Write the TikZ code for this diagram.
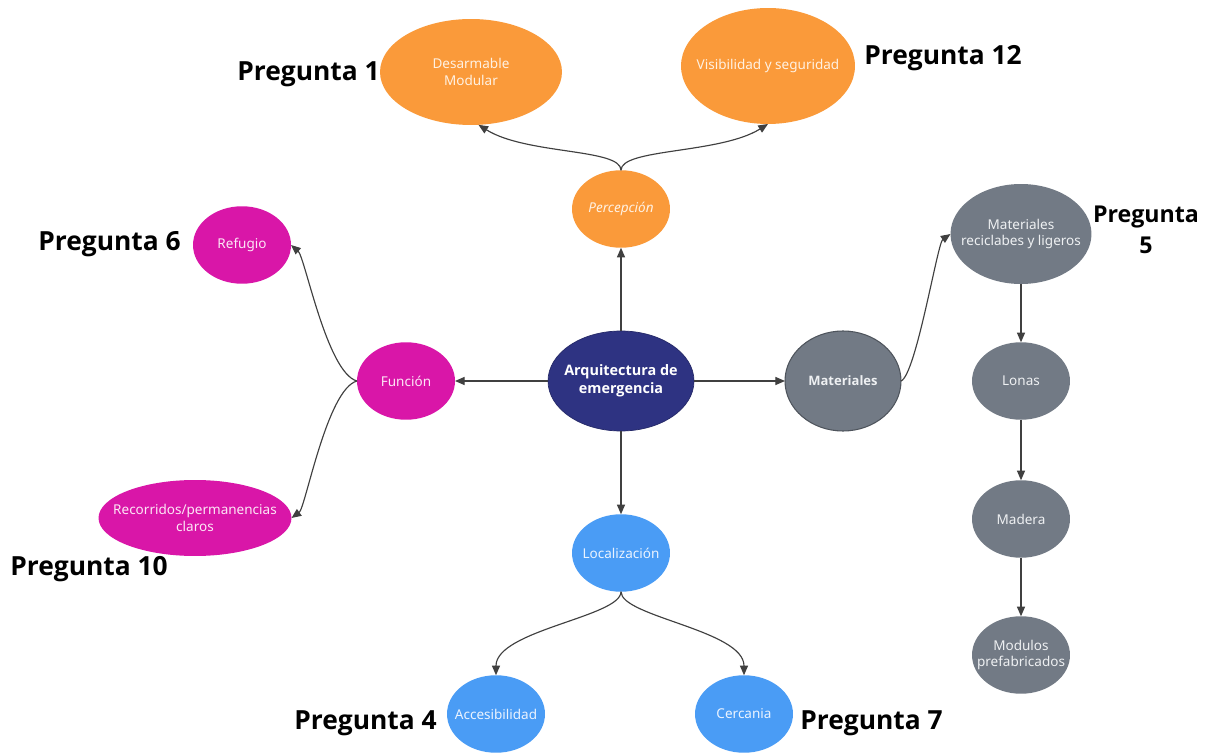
\documentclass[tikz,border=0pt]{standalone}
\usepackage{fontspec}
\setmainfont{Noto Sans}
\newfontfamily\tagfont{Open Sans}
\newfontfamily\strongfont{Open Sans}
\usetikzlibrary{shapes.geometric,arrows.meta}

\definecolor{cOrange}{HTML}{FA9A3A}
\definecolor{cOrangeTxt}{HTML}{FFF1E2}
\definecolor{cMagenta}{HTML}{D916A8}
\definecolor{cMagentaTxt}{HTML}{FCE6F5}
\definecolor{cNavy}{HTML}{2E3382}
\definecolor{cGrey}{HTML}{727A85}
\definecolor{cGreyLine}{HTML}{4E545C}
\definecolor{cGreyTxt}{HTML}{EEF0F2}
\definecolor{cBlue}{HTML}{4A9CF5}
\definecolor{cBlueTxt}{HTML}{EAF3FF}
\definecolor{cEdge}{HTML}{404040}

\begin{document}
\begin{tikzpicture}[x=0.02cm, y=-0.02cm,
  bub/.style={ellipse, inner sep=0pt, outer sep=0pt},
  small/.style={bub, minimum width=1.96cm, minimum height=1.55cm},
  txt/.style={font=\fontsize{7.7}{9.6}\selectfont, align=center, inner sep=0pt},
  boldtxt/.style={font=\strongfont\bfseries\fontsize{8.2}{10}\selectfont, align=center, inner sep=0pt, text=white},
  link/.style={draw=cEdge, line width=0.65pt, -{Triangle[length=5.5pt,width=4.6pt]}},
  tag/.style={font=\tagfont\bfseries\fontsize{15}{17.6}\selectfont, inner sep=0pt, text=black, align=center}]

\path[use as bounding box, fill=white] (0,0) rectangle (1208,753);

% central concept
\node[bub, fill=cNavy, draw=cNavy!80!black, line width=0.4pt,
      minimum width=2.92cm, minimum height=2.0cm,
      label={[boldtxt]center:Arquitectura de\\emergencia}] (arq) at (621,381) {};

% perception branch
\node[small, fill=cOrange, label={[txt,text=cOrangeTxt,font=\itshape\fontsize{7.7}{9.6}\selectfont]center:Percepción}] (perc) at (621,209) {};
\node[bub, fill=cOrange, minimum width=3.64cm, minimum height=2.12cm,
      label={[txt,text=cOrangeTxt]center:Desarmable\\Modular}] (des) at (471,72) {};
\node[bub, fill=cOrange, minimum width=3.48cm, minimum height=2.32cm,
      label={[txt,text=cOrangeTxt]center:Visibilidad y seguridad}] (vis) at (768,66) {};

% function branch
\node[small, fill=cMagenta, label={[txt,text=cMagentaTxt]center:Función}] (fun) at (406,381) {};
\node[small, fill=cMagenta, label={[txt,text=cMagentaTxt]center:Refugio}] (ref) at (242,245) {};
\node[bub, fill=cMagenta, minimum width=3.86cm, minimum height=1.52cm,
      label={[txt,text=cMagentaTxt]center:Recorridos/permanencias\\claros}] (rec) at (195,518) {};

% materials branch
\node[bub, fill=cGrey, draw=cGreyLine, line width=0.6pt,
      minimum width=2.32cm, minimum height=2.0cm,
      label={[boldtxt,font=\strongfont\bfseries\fontsize{7.4}{9}\selectfont,text=cGreyTxt]center:Materiales}] (mat) at (843,381) {};
\node[bub, fill=cGrey, minimum width=2.82cm, minimum height=2.0cm,
      label={[txt,text=cGreyTxt]center:Materiales\\reciclabes y ligeros}] (mr) at (1021,234) {};
\node[small, fill=cGrey, label={[txt,text=cGreyTxt]center:Lonas}] (lon) at (1021,381) {};
\node[small, fill=cGrey, label={[txt,text=cGreyTxt]center:Madera}] (mad) at (1021,519) {};
\node[small, fill=cGrey, label={[txt,text=cGreyTxt]center:Modulos\\prefabricados}] (mod) at (1021,655) {};

% location branch
\node[small, fill=cBlue, label={[txt,text=cBlueTxt]center:Localización}] (loc) at (621,553) {};
\node[small, fill=cBlue, label={[txt,text=cBlueTxt]center:Accesibilidad}] (acc) at (496,714) {};
\node[small, fill=cBlue, label={[txt,text=cBlueTxt]center:Cercania}] (cer) at (744,714) {};

% question tags
\node[tag, anchor=east] (q1) at (380,74) {Pregunta 1};
\node[tag, anchor=west] (q12) at (864,58) {Pregunta 12};
\node[tag, anchor=east] (q6) at (181,244) {Pregunta 6};
\node[tag, anchor=west] (q10) at (10,569) {Pregunta 10};
\node[tag, font=\tagfont\bfseries\fontsize{13.2}{17.6}\selectfont] (q5) at (1146,230) {Pregunta\\5};
\node[tag, anchor=east] (q4) at (437,723) {Pregunta 4};
\node[tag, anchor=west] (q7) at (800,723) {Pregunta 7};

% connectors
\draw[link] (arq.north) -- (perc.south);
\draw[link] (perc.north) .. controls +(0,-22) and +(48,30) .. (des.-82);
\draw[link] (perc.north) .. controls +(0,-22) and +(-48,30) .. (vis.south);
\draw[link] (arq.west) -- (fun.east);
\draw[link] (fun.west) .. controls +(-30,-8) and +(14,12) .. (ref.east);
\draw[link] (fun.west) .. controls +(-30,8) and +(14,-10) .. (rec.east);
\draw[link] (arq.east) -- (mat.west);
\draw[link] (mat.east) .. controls +(15,-6) and +(-13,9) .. (mr.west);
\draw[link] (mr.south) -- (lon.north);
\draw[link] (lon.south) -- (mad.north);
\draw[link] (mad.south) -- (mod.north);
\draw[link] (arq.south) -- (loc.north);
\draw[link] (loc.south) .. controls +(0,25) and +(0,-45) .. (acc.north);
\draw[link] (loc.south) .. controls +(0,25) and +(0,-45) .. (cer.north);
\end{tikzpicture}
\end{document}
